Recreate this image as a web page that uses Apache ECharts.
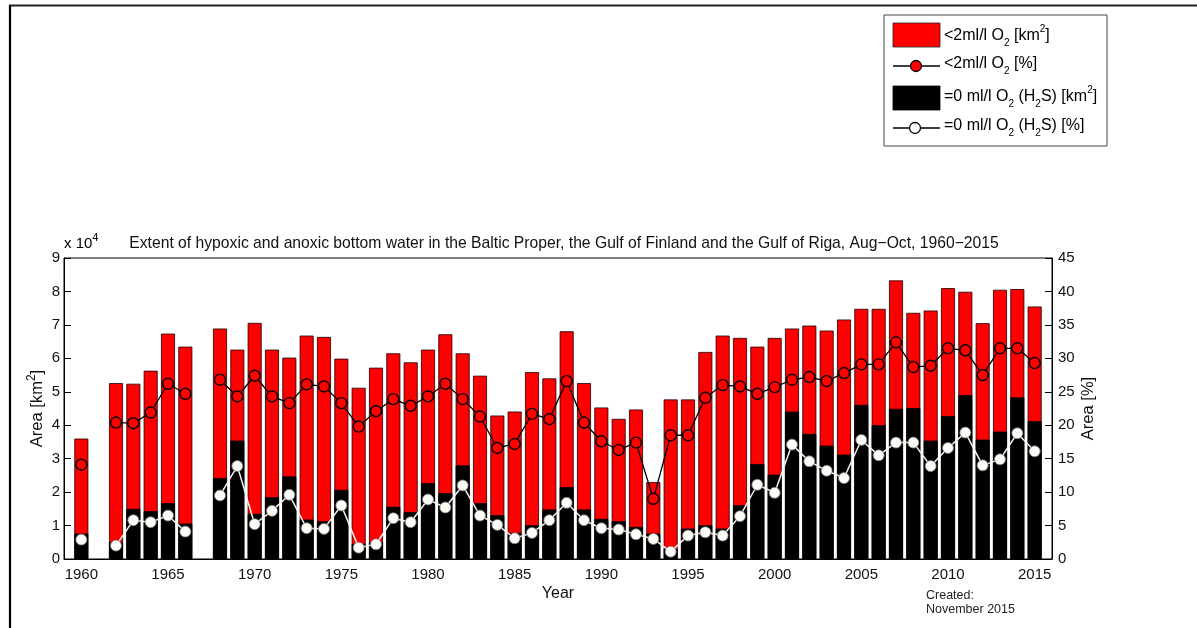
<!DOCTYPE html>
<html>
<head>
<meta charset="utf-8">
<title>Hypoxic and anoxic bottom water, Baltic Sea 1960–2015</title>
<script src="https://cdn.jsdelivr.net/npm/echarts@6/dist/echarts.min.js"></script>
<style>
  html, body { margin: 0; padding: 0; background: #fff; }
  #chart { width: 1197px; height: 628px; }
</style>
</head>
<body>
<div id="chart"></div>
<script>
// Survey years (1961 and 1967 have no data)
const years = [
  1960, 1961, 1962, 1963, 1964, 1965, 1966, 1967, 1968, 1969,
  1970, 1971, 1972, 1973, 1974, 1975, 1976, 1977, 1978, 1979,
  1980, 1981, 1982, 1983, 1984, 1985, 1986, 1987, 1988, 1989,
  1990, 1991, 1992, 1993, 1994, 1995, 1996, 1997, 1998, 1999,
  2000, 2001, 2002, 2003, 2004, 2005, 2006, 2007, 2008, 2009,
  2010, 2011, 2012, 2013, 2014, 2015
];

// Area with < 2 ml/l O2 [km²]
const hypoxicKm2 = [
  36000, null, 52600, 52400, 56300, 67400, 63500, null, 68900, 62600,
  70600, 62600, 60200, 66800, 66400, 59900, 51200, 57200, 61500, 58800,
  62600, 67200, 61500, 54800, 42900, 44100, 55900, 54000, 68100, 52600,
  45300, 41900, 44700, 23000, 47700, 47700, 61900, 66800, 66100, 63500,
  66100, 68900, 69800, 68300, 71600, 74800, 74800, 83300, 73600, 74300,
  81000, 79900, 70500, 80500, 80700, 75500
];

// Area with 0 ml/l O2 (H2S) [km²]
const anoxicKm2 = [
  7600, null, 5000, 15000, 14300, 16700, 10600, null, 24200, 35400,
  13500, 18500, 24700, 11800, 11300, 20700, 4500, 5000, 15600, 14000,
  22700, 19700, 28000, 16700, 13100, 7800, 10100, 14800, 21500, 14800,
  12000, 11300, 9600, 7600, 3000, 9100, 10100, 9100, 16100, 28400,
  25200, 44100, 37400, 33900, 31200, 46100, 40000, 44900, 45100, 35400,
  42700, 49000, 35700, 38100, 48300, 41200
];

// Share of the area with < 2 ml/l O2 [%]
const hypoxicPct = [
  14.1, null, 20.4, 20.3, 21.9, 26.2, 24.7, null, 26.8, 24.3,
  27.4, 24.3, 23.3, 26.1, 25.8, 23.3, 19.8, 22.1, 23.9, 22.9,
  24.3, 26.2, 23.9, 21.3, 16.6, 17.2, 21.7, 20.9, 26.6, 20.4,
  17.6, 16.3, 17.4, 9.0, 18.5, 18.5, 24.1, 26.0, 25.8, 24.7,
  25.7, 26.8, 27.2, 26.6, 27.8, 29.1, 29.1, 32.4, 28.7, 28.9,
  31.5, 31.2, 27.5, 31.5, 31.5, 29.3
];

// Share of the area with 0 ml/l O2 (H2S) [%]
const anoxicPct = [
  2.9, null, 2.0, 5.8, 5.5, 6.5, 4.1, null, 9.5, 13.9,
  5.2, 7.2, 9.6, 4.6, 4.5, 8.0, 1.7, 2.2, 6.1, 5.5,
  8.9, 7.7, 11.0, 6.5, 5.1, 3.1, 3.9, 5.8, 8.4, 5.8,
  4.6, 4.4, 3.7, 3.0, 1.1, 3.5, 4.0, 3.5, 6.4, 11.1,
  9.9, 17.1, 14.6, 13.2, 12.1, 17.8, 15.5, 17.4, 17.4, 13.9,
  16.6, 18.9, 14.0, 14.9, 18.8, 16.1
];

// Labelled years on the horizontal axis
const yearTicks = [1960, 1965, 1970, 1975, 1980, 1985, 1990, 1995, 2000, 2005, 2010, 2015];

const FONT = '"Liberation Sans", Arial, Helvetica, sans-serif';
const INK = '#111';

function pairs(values) {
  return years.map((y, i) => [y, values[i] == null ? '-' : values[i]]);
}

// Rich-text styles for sub/superscripts
function richStyles(size, smallRatio) {
  const small = Math.round(size * (smallRatio || 0.7));
  return {
    n:   { fontSize: size, fontFamily: FONT, color: INK, lineHeight: size + 8, verticalAlign: 'middle' },
    sub: { fontSize: small, fontFamily: FONT, color: INK, lineHeight: small, verticalAlign: 'bottom' },
    sup: { fontSize: small, fontFamily: FONT, color: INK, lineHeight: small, verticalAlign: 'top' }
  };
}

const chart = echarts.init(document.getElementById('chart'), null, { renderer: 'canvas' });

const LEG_X = 884, LEG_Y = 15;
const legendText = (y, txt) => ({
  type: 'text',
  style: { x: LEG_X + 60, y: y, text: txt, align: 'left', verticalAlign: 'middle', rich: richStyles(16, 0.62) }
});

chart.setOption({
  animation: false,
  backgroundColor: '#fff',
  title: {
    text: 'Extent of hypoxic and anoxic bottom water in the Baltic Proper, the Gulf of Finland and the Gulf of Riga, Aug\u2212Oct, 1960\u22122015',
    left: 559,
    top: 231,
    textAlign: 'center',
    textStyle: { fontFamily: FONT, fontSize: 15.7, fontWeight: 'normal', color: INK }
  },
  grid: {
    left: 64, right: 145, top: 258, bottom: 69,
    show: true, borderColor: '#000', borderWidth: 1, backgroundColor: '#fff'
  },
  xAxis: {
    type: 'value',
    min: 1959, max: 2016,
    name: 'Year',
    nameLocation: 'middle',
    nameGap: 27,
    nameTextStyle: { fontFamily: FONT, fontSize: 16, color: INK },
    axisLine: { lineStyle: { color: '#000', width: 1 } },
    axisTick: { inside: true, length: 5, customValues: yearTicks, lineStyle: { color: '#000' } },
    axisLabel: { customValues: yearTicks, margin: 8, fontFamily: FONT, fontSize: 15, color: INK, formatter: v => String(v) },
    splitLine: { show: false }
  },
  yAxis: [
    {
      type: 'value',
      min: 0, max: 90000, interval: 10000,
      name: '{n|Area [km}{sup|2}{n|]}',
      nameLocation: 'middle',
      nameRotate: 90,
      nameGap: 14,
      nameMoveOverlap: false,
      nameTextStyle: { fontFamily: FONT, fontSize: 16.5, color: INK, rich: richStyles(16.5) },
      axisLine: { show: true, lineStyle: { color: '#000', width: 1 } },
      axisTick: { show: true, inside: true, length: 7, lineStyle: { color: '#000' } },
      axisLabel: { margin: 4, fontFamily: FONT, fontSize: 15, color: INK, formatter: v => String(v / 10000) },
      splitLine: { show: false }
    },
    {
      type: 'value',
      position: 'right',
      min: 0, max: 45, interval: 5,
      name: 'Area [%]',
      nameLocation: 'middle',
      nameRotate: 90,
      nameGap: 28,
      nameMoveOverlap: false,
      nameTextStyle: { fontFamily: FONT, fontSize: 16.5, color: INK },
      axisLine: { show: true, lineStyle: { color: '#000', width: 1 } },
      axisTick: { show: true, inside: true, length: 7, lineStyle: { color: '#000' } },
      axisLabel: { margin: 6, fontFamily: FONT, fontSize: 15, color: INK },
      splitLine: { show: false }
    }
  ],
  series: [
    {
      name: '<2ml/l O2 [km2]',
      type: 'bar',
      yAxisIndex: 0,
      barWidth: 14,
      barGap: '-100%',
      data: pairs(hypoxicKm2),
      itemStyle: { color: '#ff0000', borderColor: '#1a0000', borderWidth: 0.8 },
      z: 2
    },
    {
      name: '=0 ml/l O2 (H2S) [km2]',
      type: 'bar',
      yAxisIndex: 0,
      barWidth: 14,
      barGap: '-100%',
      data: pairs(anoxicKm2),
      itemStyle: { color: '#000000', borderColor: '#000', borderWidth: 0.8 },
      z: 3
    },
    {
      name: '<2ml/l O2 [%]',
      type: 'line',
      yAxisIndex: 1,
      data: pairs(hypoxicPct),
      connectNulls: false,
      symbol: 'circle',
      symbolSize: 11,
      showAllSymbol: true,
      lineStyle: { color: '#000', width: 1.3 },
      itemStyle: { color: '#ff0000', borderColor: '#000', borderWidth: 1.4 },
      z: 5
    },
    {
      name: '=0 ml/l O2 (H2S) [%]',
      type: 'line',
      yAxisIndex: 1,
      data: pairs(anoxicPct),
      connectNulls: false,
      symbol: 'circle',
      symbolSize: 11,
      showAllSymbol: true,
      lineStyle: { color: '#f4f4f0', width: 1.5 },
      itemStyle: { color: '#fdfdf8', borderColor: '#777', borderWidth: 0.8 },
      z: 4
    }
  ],
  graphic: [
    // outer frame
    { type: 'line', shape: { x1: 9, y1: 5.5, x2: 1197, y2: 5.5 }, style: { stroke: '#222', lineWidth: 2 } },
    { type: 'line', shape: { x1: 10, y1: 5, x2: 10, y2: 628 }, style: { stroke: '#000', lineWidth: 2.2 } },
    // scale factor of the left axis
    {
      type: 'text',
      style: { x: 64, y: 244, text: '{n|x 10}{sup|4}', align: 'left', verticalAlign: 'middle', rich: richStyles(15) }
    },
    // legend
    {
      type: 'group',
      children: [
        { type: 'rect', shape: { x: LEG_X, y: LEG_Y, width: 223, height: 131 }, style: { fill: '#fff', stroke: '#444', lineWidth: 1 } },
        { type: 'rect', shape: { x: LEG_X + 9, y: LEG_Y + 8, width: 47, height: 24 }, style: { fill: '#ff0000', stroke: '#222', lineWidth: 0.8 } },
        legendText(LEG_Y + 21, '{n|<2ml/l O}{sub|2}{n| [km}{sup|2}{n|]}'),
        { type: 'line', shape: { x1: LEG_X + 9, y1: LEG_Y + 51, x2: LEG_X + 56, y2: LEG_Y + 51 }, style: { stroke: '#000', lineWidth: 1.3 } },
        { type: 'circle', shape: { cx: LEG_X + 32, cy: LEG_Y + 51, r: 5.5 }, style: { fill: '#ff0000', stroke: '#000', lineWidth: 1.3 } },
        legendText(LEG_Y + 49, '{n|<2ml/l O}{sub|2}{n| [%]}'),
        { type: 'rect', shape: { x: LEG_X + 9, y: LEG_Y + 71, width: 47, height: 24 }, style: { fill: '#000', stroke: '#000', lineWidth: 0.8 } },
        legendText(LEG_Y + 82, '{n|=0 ml/l O}{sub|2}{n| (H}{sub|2}{n|S) [km}{sup|2}{n|]}'),
        { type: 'line', shape: { x1: LEG_X + 9, y1: LEG_Y + 113, x2: LEG_X + 56, y2: LEG_Y + 113 }, style: { stroke: '#000', lineWidth: 1.3 } },
        { type: 'circle', shape: { cx: LEG_X + 31, cy: LEG_Y + 113, r: 5.5 }, style: { fill: '#fff', stroke: '#000', lineWidth: 1.3 } },
        legendText(LEG_Y + 111, '{n|=0 ml/l O}{sub|2}{n| (H}{sub|2}{n|S) [%]}')
      ]
    },
    // creation note
    {
      type: 'text',
      style: { x: 926, y: 603, text: 'Created:\nNovember 2015', align: 'left', verticalAlign: 'middle',
               fontFamily: FONT, fontSize: 12.5, lineHeight: 14, fill: '#222' }
    }
  ]
});
</script>
</body>
</html>
